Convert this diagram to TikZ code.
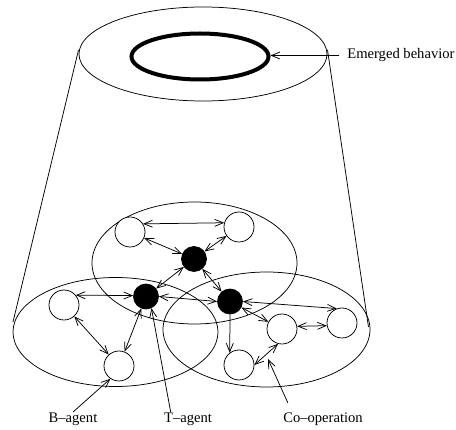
\documentclass[tikz,border=0pt]{standalone}
\usepackage{fontspec}
\setmainfont{Liberation Serif}
\usetikzlibrary{arrows.meta,shapes.geometric,calc}
\begin{document}
\begin{tikzpicture}[x=1pt,y=-1pt,line width=0.75pt,
  tip/.tip={Straight Barb[length=8.5pt,width=7pt,line width=0.75pt]},
  wnode/.style={circle,draw,fill=white,minimum size=30pt,inner sep=0pt},
  bnode/.style={circle,draw,fill=black,minimum size=25pt,inner sep=0pt},
  link/.style={tip-tip},
  onelink/.style={-tip},
  lbl/.style={font=\fontsize{14.6}{17}\selectfont,inner sep=1pt}]
\useasboundingbox (0,0) rectangle (456,430);

% cylinder: top ellipse and the two sides
\draw (203,54) ellipse [x radius=124, y radius=47];
\draw (78.5,50) -- (13,322);
\draw (327.5,50) -- (368.5,327);

% emerged behaviour ring
\node[ellipse,draw,line width=4pt,minimum width=137pt,minimum height=46pt,inner sep=0pt] (ring) at (200,56.5) {};

% three groups
\draw (194.5,263) ellipse [x radius=102.5, y radius=61];
\draw (115.5,332) ellipse [x radius=102.5, y radius=54.5];
\draw (266.5,329.5) ellipse [x radius=103.5, y radius=57.5];

% agents
\node[wnode] (wtl) at (130,232) {};
\node[wnode] (wtr) at (239,227) {};
\node[bnode] (btop) at (194,259) {};
\node[bnode] (bleft) at (146,296.5) {};
\node[bnode] (bright) at (230,301.5) {};
\node[wnode] (wleft) at (64,305) {};
\node[wnode] (wbl) at (119,366) {};
\node[wnode] (wmid) at (282,329) {};
\node[wnode] (wright) at (342,323) {};
\node[wnode] (wbot) at (239,365) {};

% interactions
\draw[link] (wtl.32) -- (wtr.164);
\draw[link] (wtl) -- (btop);
\draw[link] (wtr) -- (btop);
\draw[link] (btop) -- (bleft);
\draw[link] (btop) -- (bright);
\draw[link] (bleft.east) -- (bright.west);
\draw[link] (wleft.40) -- (bleft.176);
\draw[link] (wleft) -- (wbl);
\draw[link] (bleft) -- (wbl);
\draw[link] (bright.east) -- (wright.110);
\draw[link] (bright) -- (wmid);
\draw[onelink] (bright.south) -- (wbot.127);
\draw[link] (wmid.10) -- (wright.190);
\draw[link] (wbot.east) -- (wmid.-105);

% labels
\node[lbl,anchor=base west] (emtext) at (346,59) {Emerged behavior};
\node[lbl,anchor=base] (bag) at (73,423) {B--agent};
\node[lbl,anchor=base] (tag) at (188,423) {T--agent};
\node[lbl,anchor=base] (coop) at (323,423) {Co--operation};
\coordinate (coopt) at (268,359);

\draw[onelink] ($(emtext.west)+(-7,0)$) -- (emtext.west -| ring.east);
\draw[onelink] (bag.north) -- (wbl.-124);
\draw[onelink] ($(tag.north west)+(8,0)$) -- (bleft.-65);
\draw[onelink] ($(coop.north west)+(6,-9)$) -- (coopt);
\end{tikzpicture}
\end{document}
